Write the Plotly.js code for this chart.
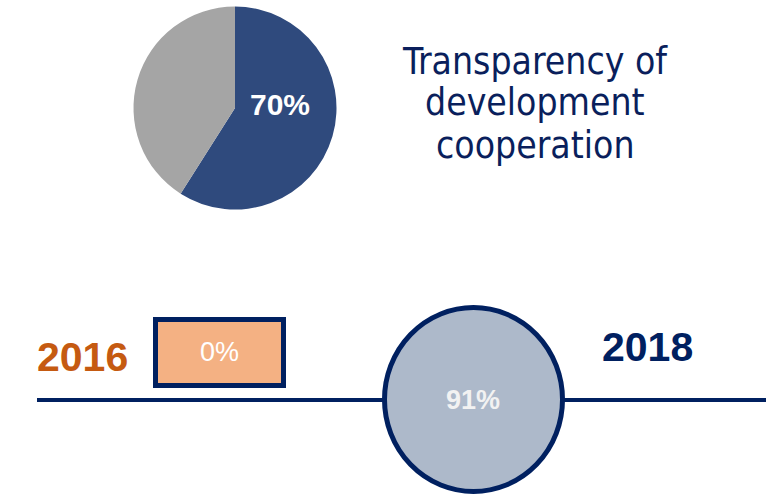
<!DOCTYPE html>
<html>
<head>
<meta charset="utf-8">
<script src="https://cdn.plot.ly/plotly-3.0.1.min.js"></script>
<style>html,body{margin:0;padding:0;background:#fff;}#chart{width:773px;height:495px;}</style>
</head>
<body>
<div id="chart"></div>
<script>
// ---- data ----
const pieLabels = ['Transparent', 'Not transparent'];
const pieValues = [59, 41];
const pieLabelText = '70%';
const titleLines = ['Transparency of', 'development', 'cooperation'];
const years = ['2016', '2018'];
const yearValues = [0, 91];

// ---- styles ----
const NAVY = '#002060';
const W = 773, H = 495;
const fx = v => v / W, fy = v => 1 - v / H;

const pie = {
  type: 'pie',
  labels: pieLabels,
  values: pieValues,
  sort: false,
  direction: 'clockwise',
  rotation: 0,
  marker: {colors: ['#2F4A7D', '#A5A5A5'], line: {width: 0}},
  textinfo: 'none',
  hoverinfo: 'label+value',
  showlegend: false,
  domain: {x: [fx(133.5), fx(336.5)], y: [fy(209.5), fy(6.5)]}
};

const shapes = [
  {type: 'line', xref: 'x', yref: 'y', x0: 37, x1: 766, y0: 400, y1: 400,
   line: {color: NAVY, width: 4}},
  {type: 'rect', xref: 'x', yref: 'y', x0: 155.5, x1: 283.5, y0: 319.5, y1: 385.5,
   fillcolor: '#F4B183', line: {color: NAVY, width: 5}},
  {type: 'circle', xref: 'x', yref: 'y', x0: 384.5, x1: 562.5, y0: 307.5, y1: 491.5,
   fillcolor: '#ADB9CA', line: {color: NAVY, width: 5}}
];

const titleFont = {family: '"DejaVu Sans Condensed", "DejaVu Sans", sans-serif', size: 37, color: '#0A1F5C'};
const annotations = [
  {x: 535, y: 61, text: titleLines[0]},
  {x: 535, y: 102, text: titleLines[1]},
  {x: 535, y: 145, text: titleLines[2]}
].map(a => Object.assign(a, {xref: 'x', yref: 'y', showarrow: false, xanchor: 'center', yanchor: 'middle', font: titleFont}));

annotations.push(
  {x: 280, y: 104, text: '<b>' + pieLabelText + '</b>', xref: 'x', yref: 'y', showarrow: false,
   font: {family: 'Liberation Sans, Arial, sans-serif', size: 30, color: '#FFFFFF'}},
  {x: 82, y: 357, text: '<b>' + years[0] + '</b>', xref: 'x', yref: 'y', showarrow: false,
   font: {family: 'Liberation Sans, Arial, sans-serif', size: 41, color: '#C55A11'}},
  {x: 647, y: 347, text: '<b>' + years[1] + '</b>', xref: 'x', yref: 'y', showarrow: false,
   font: {family: 'Liberation Sans, Arial, sans-serif', size: 41, color: NAVY}},
  {x: 219, y: 352, text: yearValues[0] + '%', xref: 'x', yref: 'y', showarrow: false,
   font: {family: 'Liberation Sans, Arial, sans-serif', size: 27, color: '#FFFFFF'}},
  {x: 473, y: 400, text: '<b>' + yearValues[1] + '%</b>', xref: 'x', yref: 'y', showarrow: false,
   font: {family: 'Liberation Sans, Arial, sans-serif', size: 27, color: '#F2F2F2'}}
);

const layout = {
  width: W, height: H,
  margin: {l: 0, r: 0, t: 0, b: 0, pad: 0},
  paper_bgcolor: '#FFFFFF', plot_bgcolor: '#FFFFFF',
  xaxis: {range: [0, W], visible: false, fixedrange: true},
  yaxis: {range: [H, 0], visible: false, fixedrange: true},
  shapes: shapes,
  annotations: annotations,
  showlegend: false
};

Plotly.newPlot('chart', [pie], layout, {displayModeBar: false, staticPlot: true});
</script>
</body>
</html>
